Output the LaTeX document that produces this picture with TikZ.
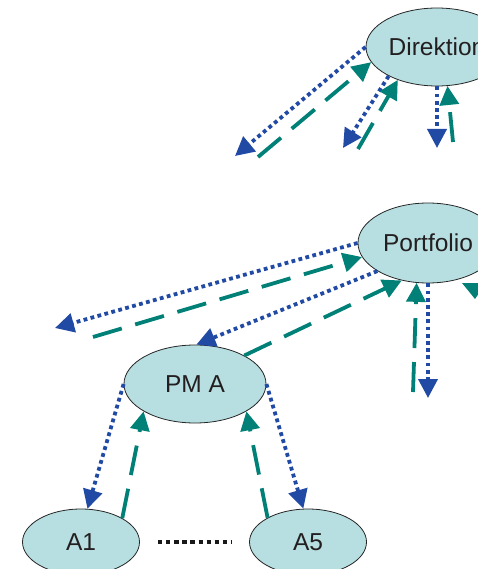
\documentclass[tikz,border=0pt]{standalone}
\usepackage{fontspec}
\setmainfont{Liberation Sans}
\usetikzlibrary{shapes.geometric,arrows.meta}
\definecolor{fillc}{RGB}{183,223,225}
\definecolor{bluec}{RGB}{33,74,164}
\definecolor{tealc}{RGB}{0,128,118}
\definecolor{txtc}{RGB}{35,31,32}
\begin{document}
\begin{tikzpicture}[x=1pt,y=-1pt,
  ell/.style={ellipse,draw=black!85,line width=0.8pt,fill=fillc,inner sep=0pt,
    font=\fontsize{24.5}{28}\selectfont,text=txtc},
  bl/.style={draw=bluec,line width=3.8pt,dash pattern=on 3.8pt off 3.4pt,
    -{Triangle[length=19pt,width=19pt]}},
  tl/.style={draw=tealc,line width=3.8pt,dash pattern=on 30pt off 14pt,
    -{Triangle[length=19pt,width=19pt]}},
  blk/.style={draw=black!90,line width=4.3pt,dash pattern=on 4.3pt off 3.8pt}]
\useasboundingbox (0,0) rectangle (478,569);
\clip (0,0) rectangle (478,569);
\node[ell,minimum width=142pt,minimum height=78pt] (dir) at (437,47) {Direktion};
\node[ell,minimum width=140pt,minimum height=80pt] (port) at (428,243) {Portfolio};
\node[ell,minimum width=142pt,minimum height=78pt] (pma) at (195,384) {PM A};
\node[ell,minimum width=117pt,minimum height=66pt] (a1) at (81,542) {A1};
\node[ell,minimum width=117pt,minimum height=66pt] (a5) at (308,542) {A5};
\coordinate (d1) at (235,156);
\coordinate (d2) at (258,157);
\coordinate (d3) at (343,148);
\coordinate (d4) at (358,149);
\coordinate (d5) at (437,148);
\coordinate (d6) at (453,142);
\coordinate (p1) at (55,328);
\coordinate (p2) at (93,337);
\coordinate (p3) at (413,392);
\coordinate (p4) at (428,398);
\coordinate (dotl) at (158,542);
\coordinate (dotr) at (232,542);
\draw[bl] (dir.180) -- (d1);
\draw[tl] (d2) -- (dir.193);
\draw[bl] (dir.211) -- (d3);
\draw[tl] (d4) -- (dir.220);
\draw[bl] (dir.270) -- (d5);
\draw[tl] (d6) -- (dir.285);
\draw[bl] (port.180) -- (p1);
\draw[tl] (p2) -- (port.192);
\draw[bl] (port.209) -- (pma.88);
\draw[tl] (pma.30) -- (port.235);
\draw[tl] (p3) -- (port.254);
\draw[bl] (port.270) -- (p4);
\draw[bl] (pma.180) -- (a1.79);
\draw[tl] (a1.30) -- (pma.208);
\draw[bl] (pma.0) -- (a5.98);
\draw[tl] (a5.149) -- (pma.332);
\draw[blk] (dotl) -- (dotr);
\fill[tealc] (462,283) -- (486,283) -- (475,299) -- cycle;
\end{tikzpicture}
\end{document}
